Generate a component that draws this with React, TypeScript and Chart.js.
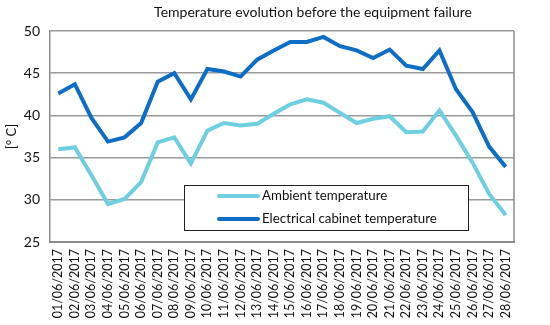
import React, { useEffect, useRef } from "react";
import { Chart, registerables } from "chart.js";

Chart.register(...registerables);

const labels = [
  "01/06/2017", "02/06/2017", "03/06/2017", "04/06/2017", "05/06/2017", "06/06/2017", "07/06/2017",
  "08/06/2017", "09/06/2017", "10/06/2017", "11/06/2017", "12/06/2017", "13/06/2017", "14/06/2017",
  "15/06/2017", "16/06/2017", "17/06/2017", "18/06/2017", "19/06/2017", "20/06/2017", "21/06/2017",
  "22/06/2017", "23/06/2017", "24/06/2017", "25/06/2017", "26/06/2017", "27/06/2017", "28/06/2017",
];

const ambient = [
  36.0, 36.2, 32.9, 29.5, 30.1, 32.1, 36.8, 37.4, 34.3, 38.2, 39.1, 38.8, 39.0, 40.2,
  41.3, 41.9, 41.5, 40.3, 39.1, 39.6, 39.9, 38.0, 38.1, 40.6, 37.6, 34.4, 30.7, 28.2,
];

const cabinet = [
  42.6, 43.7, 39.7, 36.9, 37.4, 39.1, 44.0, 45.0, 41.9, 45.5, 45.2, 44.6, 46.6, 47.7,
  48.7, 48.7, 49.3, 48.2, 47.7, 46.8, 47.8, 45.9, 45.5, 47.7, 43.1, 40.4, 36.3, 33.9,
];

const seriesNames = ["Ambient temperature", "Electrical cabinet temperature"];
const titleText = "Temperature evolution before the equipment failure";
const yTitle = "[° C]";

const FONT = "Lato";
const AMBIENT_COLOR = "#6ECFE0";
const CABINET_COLOR = "#0E6EC6";

const overlayPlugin = {
  id: "overlay",
  afterDraw(chart: any) {
    const ctx = chart.ctx;
    const area = chart.chartArea;
    ctx.save();
    // right border of plot area
    ctx.strokeStyle = "#8c8c8c";
    ctx.lineWidth = 1.5;
    ctx.beginPath();
    ctx.moveTo(area.right, area.top);
    ctx.lineTo(area.right, area.bottom);
    ctx.stroke();

    // title
    ctx.fillStyle = "#111";
    ctx.font = `14px ${FONT}`;
    ctx.textAlign = "center";
    ctx.textBaseline = "middle";
    ctx.fillText(titleText, 313, 12);

    // legend box
    const bx = 184, by = 185, bw = 284, bh = 45;
    ctx.fillStyle = "#ffffff";
    ctx.fillRect(bx, by, bw, bh);
    ctx.strokeStyle = "#222";
    ctx.lineWidth = 1;
    ctx.strokeRect(bx + 0.5, by + 0.5, bw, bh);
    const ds = chart.data.datasets;
    const rows = [196, 219];
    ds.forEach((d: any, i: number) => {
      const y = rows[i];
      ctx.strokeStyle = d.borderColor;
      ctx.lineWidth = 4;
      ctx.lineCap = "round";
      ctx.beginPath();
      ctx.moveTo(219, y);
      ctx.lineTo(258, y);
      ctx.stroke();
      ctx.fillStyle = "#111";
      ctx.font = `13.3px ${FONT}`;
      ctx.textAlign = "left";
      ctx.textBaseline = "middle";
      ctx.fillText(d.label, 262, y);
    });
    ctx.restore();
  },
};

export default function App() {
  const ref = useRef<HTMLCanvasElement>(null);
  useEffect(() => {
    if (!ref.current) return;
    const chart = new Chart(ref.current, {
      type: "line",
      data: {
        labels,
        datasets: [
          {
            label: seriesNames[0],
            data: ambient,
            borderColor: AMBIENT_COLOR,
            backgroundColor: AMBIENT_COLOR,
            borderWidth: 4,
            pointRadius: 0,
            tension: 0,
          },
          {
            label: seriesNames[1],
            data: cabinet,
            borderColor: CABINET_COLOR,
            backgroundColor: CABINET_COLOR,
            borderWidth: 4,
            pointRadius: 0,
            tension: 0,
          },
        ],
      },
      options: {
        animation: false,
        responsive: false,
        devicePixelRatio: 1,
        layout: { padding: { top: 31, right: 36, left: 0, bottom: 0 } },
        plugins: {
          legend: { display: false },
          title: { display: false },
          tooltip: { enabled: false },
        },
        scales: {
          x: {
            type: "category",
            offset: true,
            grid: { display: false, drawTicks: false },
            border: { display: true, color: "#8c8c8c", width: 2 },
            ticks: {
              autoSkip: false,
              minRotation: 90,
              maxRotation: 90,
              color: "#111",
              font: { family: FONT, size: 12.5 },
              padding: 7,
            },
            afterFit: (s: any) => {
              s.height = 83;
            },
          },
          y: {
            min: 25,
            max: 50,
            grid: { color: "#9a9a9a", lineWidth: 1.5, drawTicks: false },
            border: { display: true, color: "#8c8c8c", width: 1.5 },
            ticks: {
              stepSize: 5,
              color: "#111",
              font: { family: FONT, size: 14 },
              padding: 10,
            },
            title: {
              display: true,
              text: yTitle,
              color: "#111",
              font: { family: FONT, size: 13 },
              padding: { top: 4, bottom: 0 },
            },
            afterFit: (s: any) => {
              s.width = 50;
            },
          },
        },
      },
      plugins: [overlayPlugin],
    } as any);
    return () => chart.destroy();
  }, []);
  return (
    <div style={{ position: "absolute", left: 0, top: 0, width: 550, height: 325, background: "#fff" }}>
      <canvas ref={ref} width={550} height={325} style={{ width: 550, height: 325 }} />
    </div>
  );
}
